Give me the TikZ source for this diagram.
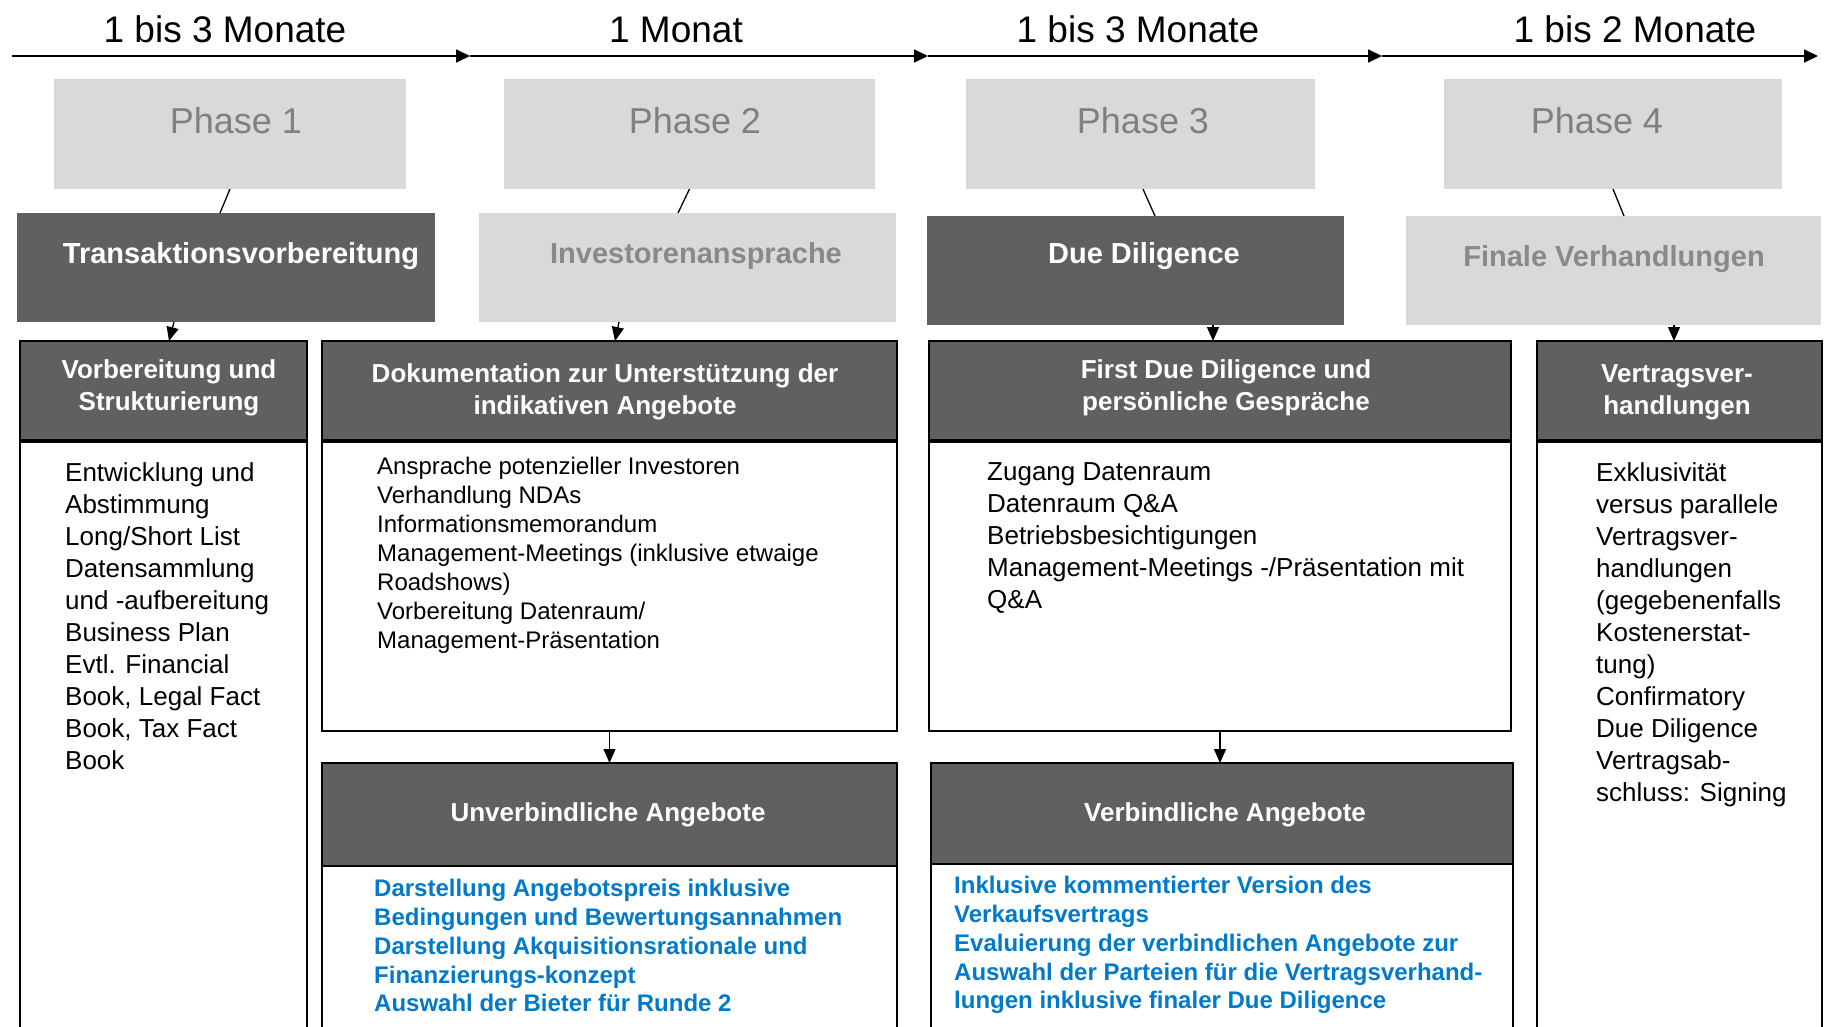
\documentclass[tikz,border=0pt]{standalone}
\usepackage{fontspec}
\setmainfont{Liberation Sans}
\usetikzlibrary{arrows.meta,calc}
\definecolor{darkbox}{RGB}{96,96,96}
\definecolor{lightbox}{RGB}{217,217,217}
\definecolor{phasetxt}{RGB}{128,128,128}
\definecolor{lighttxt}{RGB}{137,137,137}
\definecolor{bluetxt}{RGB}{0,122,201}
\newcommand{\myfs}[2]{\fontsize{#1}{#2}\selectfont}
\begin{document}
\begin{tikzpicture}[x=1pt,y=-1pt,
  box/.style={inner sep=0pt,outer sep=0pt,anchor=north west},
  phasebox/.style={box,fill=lightbox},
  stagedark/.style={box,fill=darkbox},
  stagelight/.style={box,fill=lightbox},
  headbox/.style={box,fill=darkbox,draw=black,line width=1.6pt},
  bodybox/.style={box,fill=white,draw=black,line width=1.6pt},
  tl/.style={line width=1.8pt,-{Triangle[length=14pt,width=13pt]}},
  conn/.style={line width=1.3pt},
  arr/.style={line width=1.3pt,-{Triangle[length=14pt,width=12pt]}},
  timetxt/.style={font=\myfs{37}{44},anchor=base,inner sep=0pt},
  phasetext/.style={font=\myfs{36}{43},text=phasetxt,anchor=base,inner sep=0pt},
  stagetxt/.style={font=\bfseries\myfs{29}{35},anchor=base,inner sep=0pt},
  headtxt/.style={font=\bfseries\myfs{26}{32},text=white,align=center,anchor=north,inner sep=0pt},
  bodytxt/.style={font=\myfs{26}{32},align=left,anchor=north west,inner sep=0pt},
  smalltxt/.style={font=\myfs{24}{29},align=left,anchor=north west,inner sep=0pt},
  bluetext/.style={font=\bfseries\myfs{24}{28.8},text=bluetxt,align=left,anchor=north west,inner sep=0pt}
]
\useasboundingbox (0,0) rectangle (1829,1026);
\clip (0,0) rectangle (1829,1026);

% timeline
\coordinate (t0) at (12,56);
\coordinate (t1) at (470,56);
\coordinate (t2) at (928,56);
\coordinate (t3) at (1382,56);
\coordinate (t4) at (1818,56);
\draw[tl] (t0) -- (t1);
\draw[tl] (t1) -- (t2);
\draw[tl] (t2) -- (t3);
\draw[tl] (t3) -- (t4);
\node[timetxt] (m1) at (225,42) {1 bis 3 Monate};
\node[timetxt] (m2) at (676,42) {1 Monat};
\node[timetxt] (m3) at (1138,42) {1 bis 3 Monate};
\node[timetxt] (m4) at (1635,42) {1 bis 2 Monate};

% phase boxes
\node[phasebox,minimum width=352pt,minimum height=110pt] (p1) at (54,79) {};
\node[phasebox,minimum width=371pt,minimum height=110pt] (p2) at (504,79) {};
\node[phasebox,minimum width=349pt,minimum height=110pt] (p3) at (966,79) {};
\node[phasebox,minimum width=338pt,minimum height=110pt] (p4) at (1444,79) {};
\node[phasetext] (pl1) at (236,133) {Phase 1};
\node[phasetext] (pl2) at (695,133) {Phase 2};
\node[phasetext] (pl3) at (1143,133) {Phase 3};
\node[phasetext] (pl4) at (1597,133) {Phase 4};

% stage boxes
\node[stagedark,minimum width=418pt,minimum height=109pt] (s1) at (17,213) {};
\node[stagelight,minimum width=417pt,minimum height=109pt] (s2) at (479,213) {};
\node[stagedark,minimum width=417pt,minimum height=109pt] (s3) at (927,216) {};
\node[stagelight,minimum width=415pt,minimum height=109pt] (s4) at (1406,216) {};
\node[stagetxt,text=white] (sl1) at (241,263) {Transaktionsvorbereitung};
\node[stagetxt,text=lighttxt] (sl2) at (696,263) {Investorenansprache};
\node[stagetxt,text=white] (sl3) at (1144,263) {Due Diligence};
\node[stagetxt,text=lighttxt] (sl4) at (1614,266) {Finale Verhandlungen};

% phase -> stage connectors
\draw[conn] (p1.south) -- ([xshift=-6pt]s1.north);
\draw[conn] (p2.south) -- ([xshift=-9.5pt]s2.north);
\draw[conn] ([xshift=2.5pt]p3.south) -- ([xshift=19.5pt]s3.north);
\draw[conn] (p4.south) -- ([xshift=10.5pt]s4.north);

% body boxes
\node[bodybox,minimum width=287pt,minimum height=620pt] (b1) at (20,441) {};
\node[bodybox,minimum width=575pt,minimum height=290pt] (b2) at (322,441) {};
\node[bodybox,minimum width=582pt,minimum height=290pt] (b3) at (929,441) {};
\node[bodybox,minimum width=285pt,minimum height=620pt] (b4) at (1537,441) {};

% header boxes
\node[headbox,minimum width=287pt,minimum height=100pt] (h1) at (20,341) {};
\node[headbox,minimum width=575pt,minimum height=100pt] (h2) at (322,341) {};
\node[headbox,minimum width=582pt,minimum height=100pt] (h3) at (929,341) {};
\node[headbox,minimum width=285pt,minimum height=100pt] (h4) at (1537,341) {};
\foreach \h in {h1,h2,h3,h4}{\draw[line width=4pt] (\h.south west) -- (\h.south east);}

\node[headtxt] (hl1) at (169,359) {Vorbereitung und\\Strukturierung};
\node[headtxt] (hl2) at (605,363) {Dokumentation zur Unterstützung der\\indikativen Angebote};
\node[headtxt] (hl3) at (1226,359) {First Due Diligence und\\persönliche Gespräche};
\node[headtxt] (hl4) at (1677,364) {Vertragsver-\\handlungen};

% stage -> header arrows
\draw[arr] ([xshift=-52pt]s1.south) -- ([xshift=5.5pt]h1.north);
\draw[arr] ([xshift=-68.5pt]s2.south) -- ([xshift=5.5pt]h2.north);
\draw[arr] ([xshift=77.5pt]s3.south) -- ([xshift=-7pt]h3.north);
\draw[arr] ([xshift=60.5pt]s4.south) -- ([xshift=-5.5pt]h4.north);

% body texts
\node[bodytxt] (bt1) at (65,462) {Entwicklung und\\Abstimmung\\Long/Short List\\Datensammlung\\und -aufbereitung\\Business Plan\\Evtl. Financial\\Book, Legal Fact\\Book, Tax Fact\\Book};
\node[smalltxt] (bt2) at (377,457) {Ansprache potenzieller Investoren\\Verhandlung NDAs\\Informationsmemorandum\\Management-Meetings (inklusive etwaige\\Roadshows)\\Vorbereitung Datenraum/\\Management-Präsentation};
\node[bodytxt] (bt3) at (987,462) {Zugang Datenraum\\Datenraum Q\&A\\Betriebsbesichtigungen\\Management-Meetings -/Präsentation mit\\Q\&A};
\node[bodytxt] (bt4) at (1596,462) {Exklusivität\\versus parallele\\Vertragsver-\\handlungen\\(gegebenenfalls\\Kostenerstat-\\tung)\\Confirmatory\\Due Diligence\\Vertragsab-\\schluss: Signing};

% lower boxes
\node[bodybox,minimum width=575pt,minimum height=220pt] (ub) at (322,866) {};
\node[bodybox,minimum width=582pt,minimum height=220pt] (vb) at (931,864) {};
\node[headbox,minimum width=575pt,minimum height=103pt] (uh) at (322,763) {};
\node[headbox,minimum width=582pt,minimum height=101pt] (vh) at (931,763) {};
\node[stagetxt,text=white,font=\bfseries\myfs{26}{32}] (ul) at (608,821) {Unverbindliche Angebote};
\node[stagetxt,text=white,font=\bfseries\myfs{26}{32}] (vl) at (1225,821) {Verbindliche Angebote};

\draw[arr] (b2.south) -- (uh.north);
\draw[arr] (b3.south) -- ([xshift=-2pt]vh.north);

\node[bluetext] (ut) at (374,879) {Darstellung Angebotspreis inklusive\\Bedingungen und Bewertungsannahmen\\Darstellung Akquisitionsrationale und\\Finanzierungs-konzept\\Auswahl der Bieter für Runde 2};
\node[bluetext] (vt) at (954,876) {Inklusive kommentierter Version des\\Verkaufsvertrags\\Evaluierung der verbindlichen Angebote zur\\Auswahl der Parteien für die Vertragsverhand-\\lungen inklusive finaler Due Diligence};
\end{tikzpicture}
\end{document}
